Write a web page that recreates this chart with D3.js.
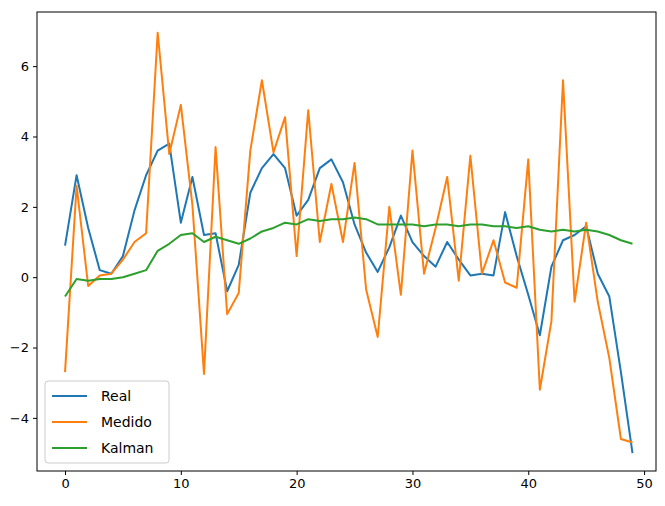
<!DOCTYPE html>
<html><head><meta charset="utf-8">
<script src="https://cdn.jsdelivr.net/npm/d3@7"></script>
<style>body{margin:0;background:#fff}text{font-family:"DejaVu Sans",sans-serif}</style>
</head><body><svg id="c" width="665" height="506"></svg>
<script>
const real=[0.9,2.9,1.4,0.2,0.1,0.6,1.9,2.9,3.6,3.8,1.55,2.85,1.2,1.25,-0.4,0.35,2.4,3.1,3.5,3.1,1.75,2.2,3.1,3.35,2.7,1.5,0.7,0.15,0.85,1.75,1.0,0.6,0.3,1.0,0.5,0.05,0.1,0.05,1.85,0.6,-0.5,-1.65,0.3,1.05,1.2,1.45,0.1,-0.55,-2.7,-5.0];
const medido=[-2.7,2.6,-0.25,0.05,0.1,0.5,1.0,1.25,6.95,3.5,4.9,2.05,-2.75,3.7,-1.05,-0.45,3.6,5.6,3.55,4.55,0.6,4.75,1.0,2.65,1.0,3.25,-0.35,-1.7,2.0,-0.5,3.6,0.1,1.4,2.85,-0.1,3.45,0.1,1.05,-0.15,-0.3,3.35,-3.2,-1.25,5.6,-0.7,1.55,-0.7,-2.3,-4.6,-4.7];
const kalman=[-0.55,-0.05,-0.1,-0.05,-0.05,0.0,0.1,0.2,0.75,0.95,1.2,1.25,1.0,1.15,1.05,0.95,1.1,1.3,1.4,1.55,1.5,1.65,1.6,1.65,1.65,1.7,1.65,1.5,1.5,1.5,1.5,1.45,1.5,1.5,1.45,1.5,1.5,1.45,1.45,1.4,1.45,1.35,1.3,1.35,1.3,1.35,1.3,1.2,1.05,0.95];
const xTicks=[0,10,20,30,40,50], yTicks=[-4,-2,0,2,4,6];
const names=["Real","Medido","Kalman"], colors=["#1f77b4","#ff7f0e","#2ca02c"];
const L=37,R=656,T=12,B=471;
const x=d3.scaleLinear().domain([-2.42,51.03]).range([L,R]);
const y=d3.scaleLinear().domain([-5.51,7.54]).range([B,T]);
const svg=d3.select("#c");
const ax=svg.append("g").attr("transform",`translate(0,${B})`).call(d3.axisBottom(x).tickValues(xTicks).tickSize(4).tickPadding(4));
const ay=svg.append("g").attr("transform",`translate(${L},0)`).call(d3.axisLeft(y).tickValues(yTicks).tickSize(4).tickPadding(4).tickFormat(d=>d<0?"−"+(-d):d));
[ax,ay].forEach(a=>{a.select(".domain").remove();a.selectAll("text").attr("font-size",13).attr("fill","#000");a.selectAll("line").attr("stroke","#000");});
const line=d3.line().x((d,i)=>x(i)).y(d=>y(d));
[real,medido,kalman].forEach((s,k)=>svg.append("path").datum(s).attr("d",line).attr("fill","none").attr("stroke",colors[k]).attr("stroke-width",2).attr("stroke-linejoin","round"));
svg.append("rect").attr("x",L).attr("y",T).attr("width",R-L).attr("height",B-T).attr("fill","none").attr("stroke","#000").attr("stroke-width",1);
const lg=svg.append("g");
lg.append("rect").attr("x",45).attr("y",381).attr("width",124).attr("height",82).attr("rx",3).attr("fill","#fff").attr("fill-opacity",0.8).attr("stroke","#ccc");
names.forEach((n,i)=>{const yy=396+i*26;
lg.append("line").attr("x1",52).attr("x2",87).attr("y1",yy).attr("y2",yy).attr("stroke",colors[i]).attr("stroke-width",2);
lg.append("text").attr("x",101).attr("y",yy+5).attr("font-size",14).text(n);});
</script></body></html>
